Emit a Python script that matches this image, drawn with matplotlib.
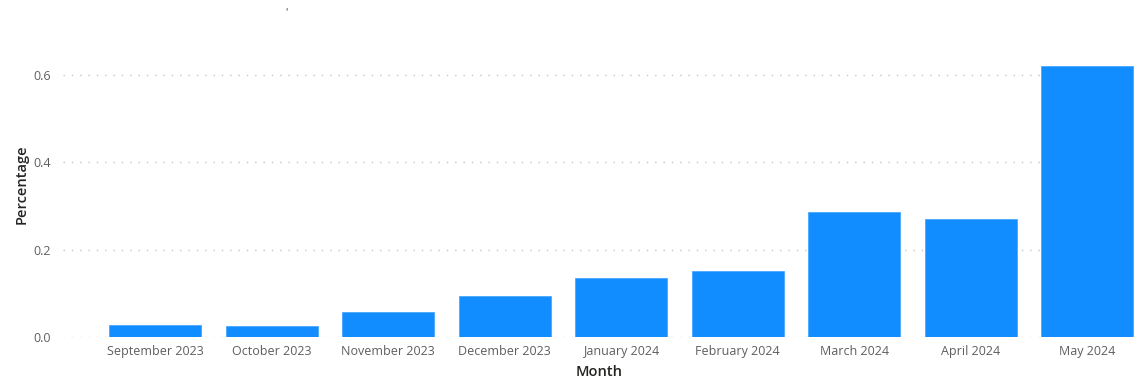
import matplotlib.pyplot as plt

months = ["September 2023", "October 2023", "November 2023", "December 2023",
          "January 2024", "February 2024", "March 2024", "April 2024", "May 2024"]
percentage = [0.028, 0.025, 0.057, 0.094, 0.135, 0.151, 0.286, 0.270, 0.621]
yticks = [0.0, 0.2, 0.4, 0.6]

plt.rcParams['font.family'] = ['Open Sans', 'DejaVu Sans']

fig = plt.figure(figsize=(11.4, 3.83), dpi=100)
ax = fig.add_axes([63 / 1140, 1 - 337 / 383, (1135 - 63) / 1140, (337 - 31) / 383])

x = range(len(months))
ax.bar(x, percentage, width=0.79, color="#118DFF", edgecolor="#4aa8ff", linewidth=0.6, zorder=3)

ax.set_xlim(-0.79, 8.41)
ax.set_ylim(0, 0.7)
ax.set_yticks(yticks)
ax.set_yticklabels([f"{v:.1f}" for v in yticks])
ax.set_xticks(list(x))
ax.set_xticklabels(months)
ax.tick_params(axis="both", length=0, colors="#605E5C", labelsize=9)
ax.tick_params(axis="x", pad=6)
ax.tick_params(axis="y", pad=9)

ax.grid(axis="y", color="#C8C6C4", linestyle=(0, (1, 5)), linewidth=1, zorder=0)
for s in ax.spines.values():
    s.set_visible(False)

ax.set_xlabel("Month", color="#252423", fontsize=10.5, fontweight="semibold", labelpad=5)
ax.set_ylabel("Percentage", color="#252423", fontsize=10.5, fontweight="semibold", labelpad=3)

fig.text(286 / 1140, 1 - 13 / 383, "'", color="#252423", fontsize=7, ha="center", va="center")

fig.savefig("out.png", dpi=100)
